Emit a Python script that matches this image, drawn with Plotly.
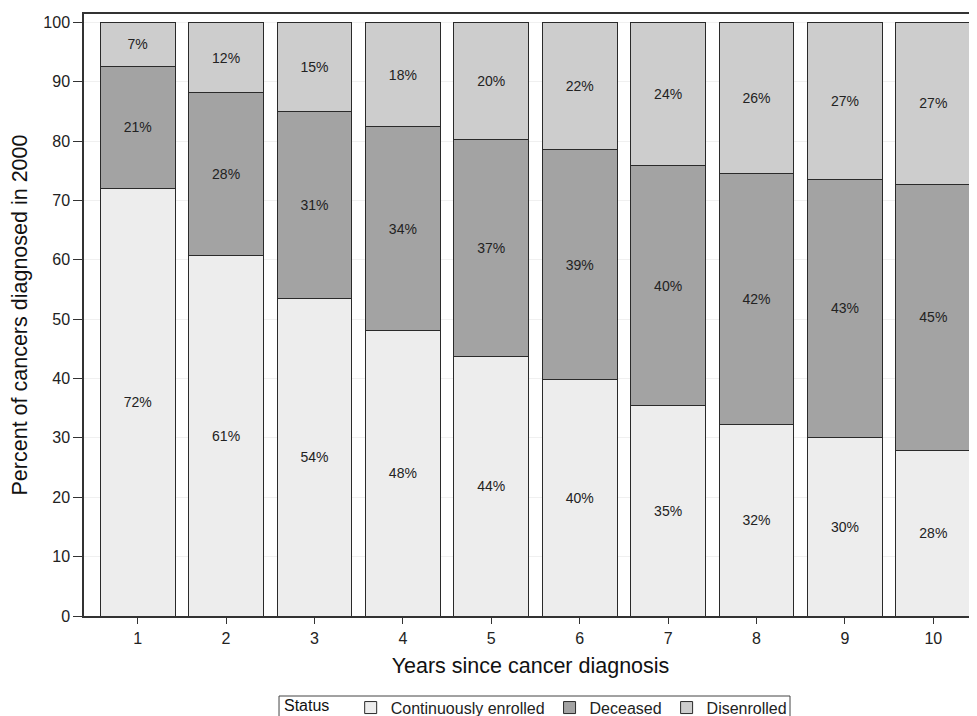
import plotly.graph_objects as go

years = [1, 2, 3, 4, 5, 6, 7, 8, 9, 10]
enrolled = [72.0, 60.7, 53.5, 48.1, 43.7, 39.9, 35.4, 32.3, 30.0, 27.9]
deceased = [20.6, 27.4, 31.4, 34.3, 36.5, 38.6, 40.5, 42.2, 43.6, 44.8]
disenrolled = [7.4, 11.9, 15.1, 17.6, 19.8, 21.5, 24.1, 25.5, 26.4, 27.3]
enrolled_lbl = ["72%", "61%", "54%", "48%", "44%", "40%", "35%", "32%", "30%", "28%"]
deceased_lbl = ["21%", "28%", "31%", "34%", "37%", "39%", "40%", "42%", "43%", "45%"]
disenrolled_lbl = ["7%", "12%", "15%", "18%", "20%", "22%", "24%", "26%", "27%", "27%"]

FONT = "Liberation Sans, Arial, sans-serif"
NB = "\u00a0"
series = [
    ("Continuously enrolled", enrolled, enrolled_lbl, "#ededed"),
    ("Deceased", deceased, deceased_lbl, "#a3a3a3"),
    ("Disenrolled", disenrolled, disenrolled_lbl, "#cdcdcd"),
]

fig = go.Figure()
for name, vals, lbls, col in series:
    fig.add_trace(go.Bar(
        x=years, y=vals, name=name, width=0.845,
        marker=dict(color=col, line=dict(color="#2a2a2a", width=1)),
        text=lbls, textposition="inside", insidetextanchor="middle",
        textangle=0, constraintext="none",
        textfont=dict(family=FONT, size=14, color="#222222"),
        hoverinfo="skip",
    ))

# legend frame (drawn as a shape so its top edge can sit close to the text)
fig.add_shape(type="rect", xref="paper", yref="paper",
              x0=0.2184, x1=0.7906, y0=-0.1329, y1=-0.20,
              line=dict(color="#444444", width=1), fillcolor="rgba(0,0,0,0)", layer="above")

fig.update_layout(
    width=977, height=716,
    barmode="stack",
    margin=dict(l=76, r=8, t=6, b=108, autoexpand=False),
    plot_bgcolor="white", paper_bgcolor="white",
    font=dict(family=FONT, color="#111111"),
    showlegend=True,
    legend=dict(
        title=dict(text="Status" + NB * 3, font=dict(family=FONT, size=16, color="#111111")),
        orientation="h", x=0.2217, xanchor="left", y=-0.124, yanchor="top",
        borderwidth=0, bgcolor="rgba(0,0,0,0)",
        font=dict(family=FONT, size=16, color="#222222"),
        traceorder="normal", itemwidth=30,
    ),
)
fig.update_xaxes(
    range=[0.393, 10.494], tickmode="array", tickvals=years,
    ticks="outside", ticklen=6, tickcolor="#333333", tickwidth=1.2,
    ticklabelstandoff=1,
    showline=True, linecolor="#333333", linewidth=1.5, mirror=True,
    showgrid=False, zeroline=False, automargin=False,
    tickfont=dict(family=FONT, size=16, color="#222222"),
    title=dict(text="Years since cancer diagnosis", font=dict(family=FONT, size=21.5, color="#111111"), standoff=12),
)
fig.update_yaxes(
    range=[0, 101.4], tickmode="array", tickvals=list(range(0, 101, 10)),
    ticks="outside", ticklen=9, tickcolor="#333333", tickwidth=1.2,
    showline=True, linecolor="#333333", linewidth=1.5, mirror=True,
    showgrid=True, gridcolor="#f0f0f0", gridwidth=1, zeroline=False, automargin=False,
    tickfont=dict(family=FONT, size=16, color="#222222"),
    title=dict(text="Percent of cancers diagnosed in 2000", font=dict(family=FONT, size=21.5, color="#111111"), standoff=10),
)

fig.write_html("out.html")
